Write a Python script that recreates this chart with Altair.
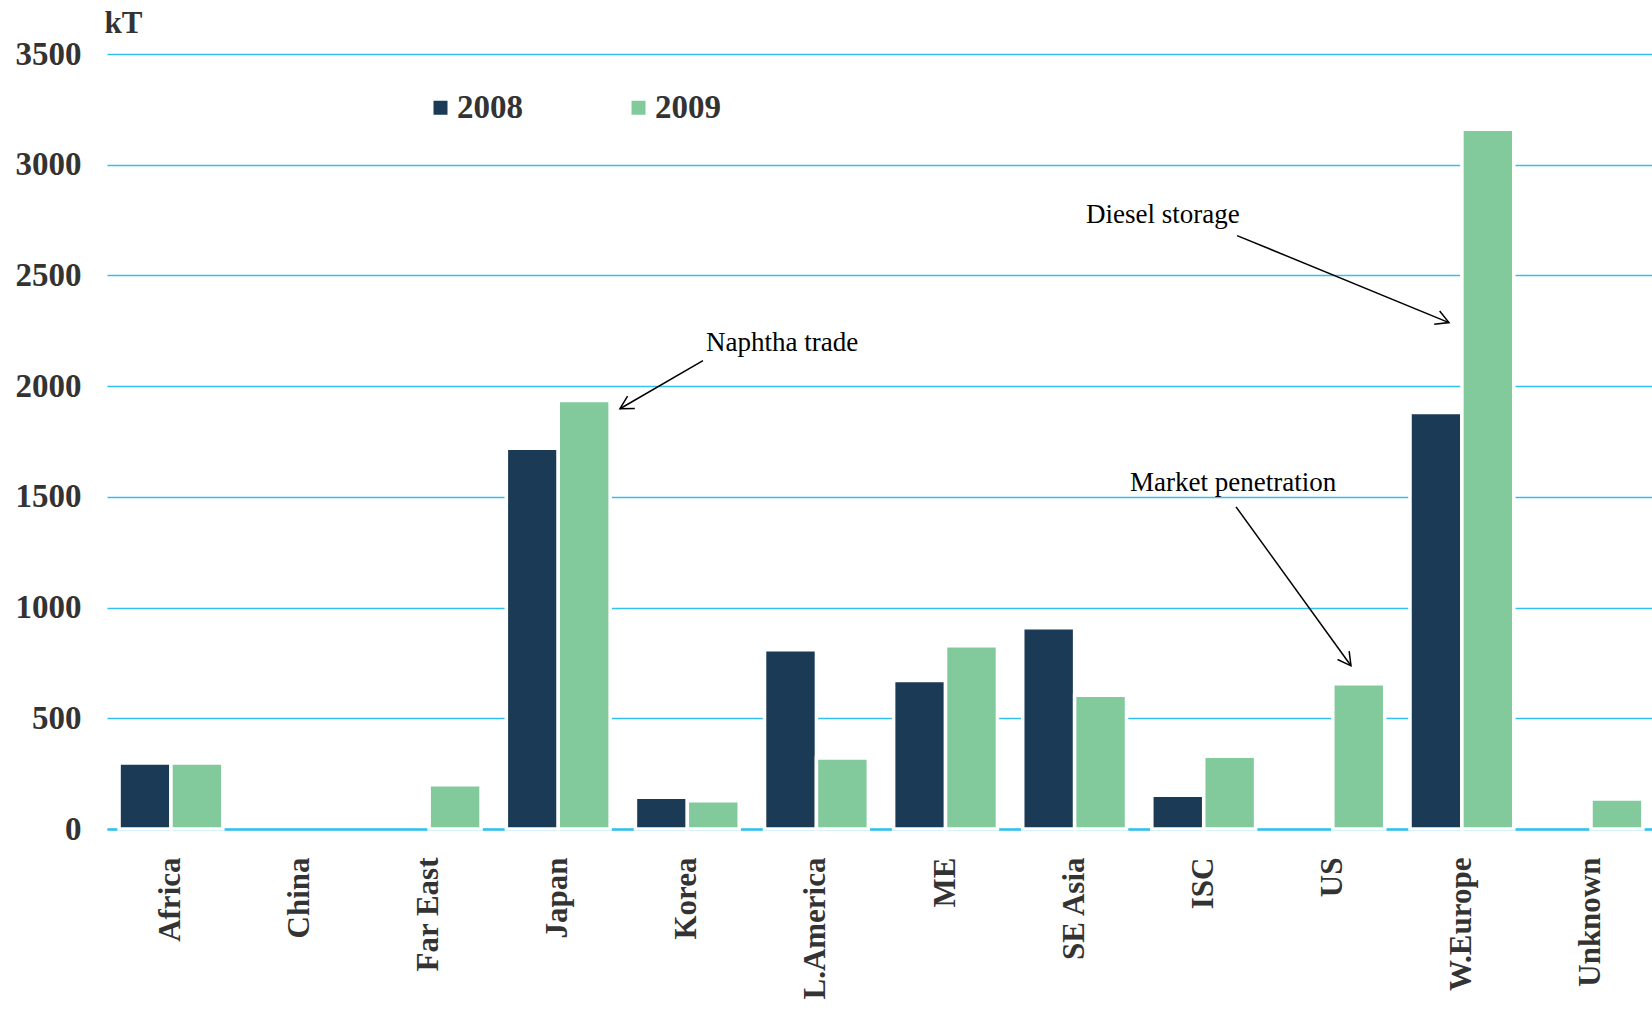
import math
import altair as alt
import pandas as pd

# Exports by destination region, kT
regions = ["Africa", "China", "Far East", "Japan", "Korea", "L.America",
           "ME", "SE Asia", "ISC", "US", "W.Europe", "Unknown"]
exports_2008 = [298, None, None, 1720, 143, 809, 671, 909, 152, None, 1881, None]
exports_2009 = [298, None, 200, 1935, 128, 321, 828, 604, 329, 656, 3160, 136]
years = ["2008", "2009"]
colors = ["#1B3A55", "#82CA9C"]
y_ticks = [0, 500, 1000, 1500, 2000, 2500, 3000, 3500]

# Callouts: text anchor and arrow (start -> tip) in region-slot units and kT
notes = ["Naphtha trade", "Diesel storage", "Market penetration"]
note_x = [4.652, 7.604, 7.946]
note_y = [2194, 2775, 1561]
arrow_x0 = [4.629, 8.777, 8.769]
arrow_y0 = [2115, 2680, 1455]
arrow_x1 = [3.984, 10.423, 9.662]
arrow_y1 = [1898, 2287, 737]

W, H = 1545, 775
Y_MAX = 3500
SERIF = "Liberation Serif"
GRID = "#34C0EE"
INK = "#333333"

rows = []
for year, vals in zip(years, [exports_2008, exports_2009]):
    for region, v in zip(regions, vals):
        if v is not None:
            rows.append({"region": region, "year": year, "kT": v})
bars_df = pd.DataFrame(rows)


def to_px(sx, ky):
    return sx * W / len(regions), H - ky * H / Y_MAX


angles = []
for x0, y0, x1, y1 in zip(arrow_x0, arrow_y0, arrow_x1, arrow_y1):
    a = to_px(x0, y0)
    b = to_px(x1, y1)
    angles.append(math.degrees(math.atan2(b[1] - a[1], b[0] - a[0])) % 360)

notes_df = pd.DataFrame({
    "note": notes, "tx": note_x, "ty": note_y,
    "x0": arrow_x0, "y0": arrow_y0, "x1": arrow_x1, "y1": arrow_y1,
    "angle": angles,
})

y_scale = alt.Scale(domain=[0, Y_MAX], nice=False)


def y_axis():
    return alt.Axis(
        values=y_ticks, format="d", title="kT", titleAngle=0,
        titleAlign="left", titleBaseline="middle", titleX=-3, titleY=-31,
        titleFont=SERIF, titleFontSize=31, titleFontWeight="bold", titleColor=INK,
        labelFont=SERIF, labelFontSize=33, labelFontWeight="bold", labelColor=INK,
        labelPadding=26, ticks=False, domain=False,
        grid=True, gridColor=GRID, gridWidth=1.6,
    )


bars = alt.Chart(bars_df).mark_bar(stroke="white", strokeWidth=3.5).encode(
    x=alt.X(
        "region:N", sort=regions,
        scale=alt.Scale(domain=regions, paddingInner=0.196, paddingOuter=0.082,
                        align=0.57),
        axis=alt.Axis(
            title=None, labelAngle=-90, labelFont=SERIF, labelFontSize=31,
            labelFontWeight="bold", labelColor=INK, labelPadding=28,
            ticks=False, domainColor=GRID, domainWidth=2.5, labelLimit=300,
        ),
    ),
    xOffset=alt.XOffset("year:N", sort=years),
    y=alt.Y("kT:Q", scale=y_scale, axis=y_axis()),
    color=alt.Color(
        "year:N", sort=years,
        scale=alt.Scale(domain=years, range=colors),
        legend=alt.Legend(
            title=None, orient="none", direction="horizontal",
            legendX=317, legendY=37, symbolType="square", symbolSize=196,
            symbolStrokeWidth=0, labelFont=SERIF, labelFontSize=33,
            labelFontWeight="bold", labelColor=INK, labelOffset=0,
            columnPadding=99, padding=0,
        ),
    ),
)

slot_x = alt.Scale(domain=[0, len(regions)], nice=False, zero=False)

note_text = alt.Chart(notes_df).mark_text(
    align="left", baseline="middle", font=SERIF, fontSize=27, color="black"
).encode(
    x=alt.X("tx:Q", scale=slot_x, axis=None),
    y=alt.Y("ty:Q", scale=y_scale, axis=y_axis()),
    text="note:N",
)

note_line = alt.Chart(notes_df).mark_rule(color="black", strokeWidth=1.5).encode(
    x=alt.X("x0:Q", scale=slot_x, axis=None),
    x2="x1:Q",
    y=alt.Y("y0:Q", scale=y_scale, axis=y_axis()),
    y2="y1:Q",
)

note_head = alt.Chart(notes_df).mark_point(
    shape="M -1 -0.55 L 0 0 L -1 0.55", filled=False, size=676,
    stroke="black", strokeWidth=1.5, opacity=1,
).encode(
    x=alt.X("x1:Q", scale=slot_x, axis=None),
    y=alt.Y("y1:Q", scale=y_scale, axis=y_axis()),
    angle=alt.Angle("angle:Q", scale=None),
)

chart = (
    alt.layer(bars, note_line, note_head, note_text)
    .resolve_scale(x="independent")
    .properties(
        width=W, height=H,
        autosize=alt.AutoSizeParams(type="none"),
        padding={"left": 107, "top": 54, "right": 0, "bottom": 184},
        background="white",
    )
    .configure_view(stroke=None)
)

chart.save("out.html", embed_options={"renderer": "svg", "actions": False})
